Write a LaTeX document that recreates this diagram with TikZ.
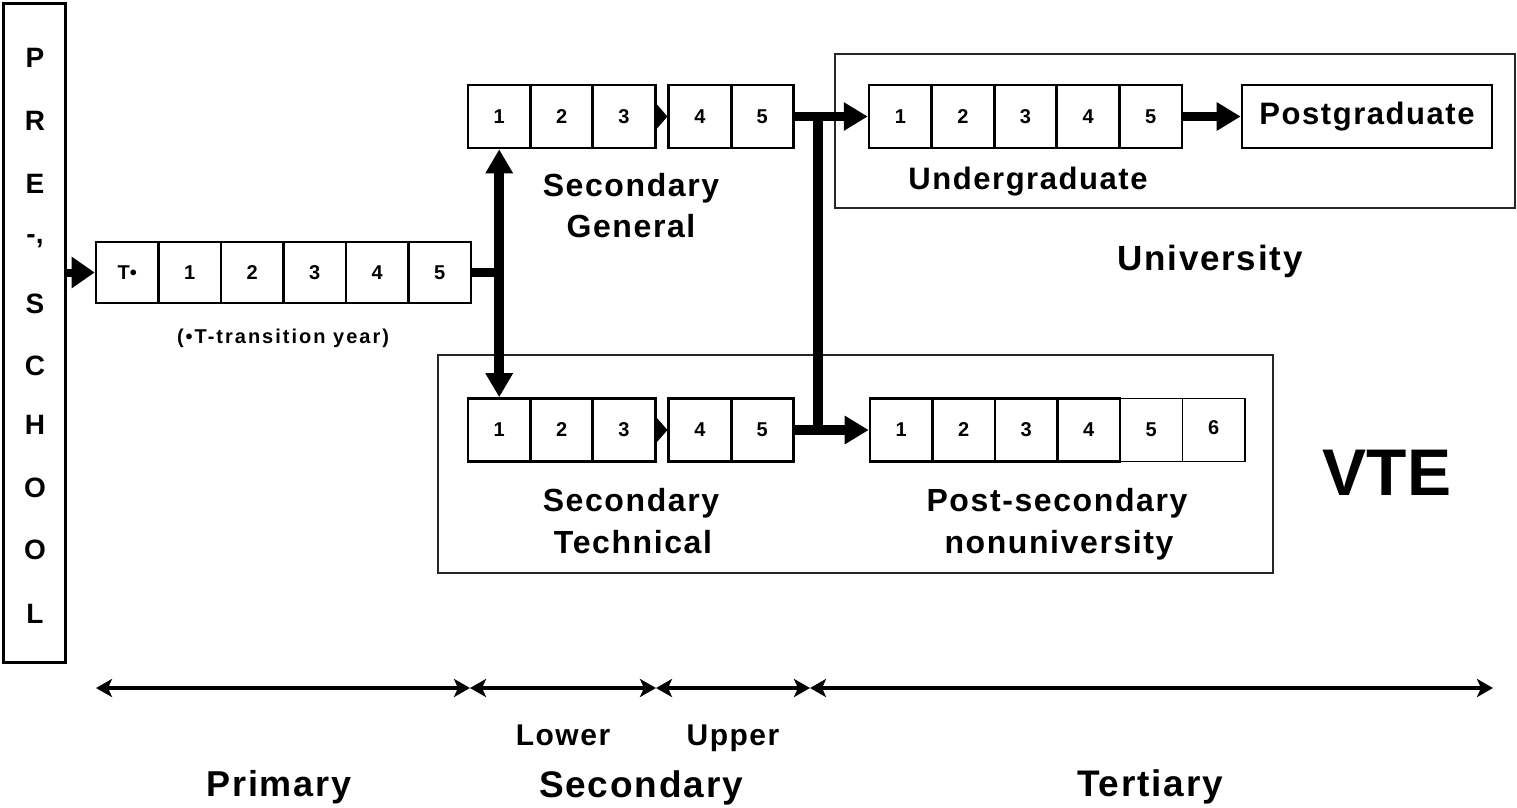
\documentclass[tikz,border=0pt]{standalone}
\usepackage{fontspec}
\setmainfont{Liberation Sans}
\newfontfamily\lab{Liberation Sans}[LetterSpace=5]
\newfontfamily\labwide{Liberation Sans}[LetterSpace=10]
\usetikzlibrary{arrows.meta,calc}
\newcommand{\fs}[1]{\fontsize{#1}{#1}\selectfont}
\tikzset{
  cell/.style={draw, line width=2.6pt, minimum width=62.5pt, minimum height=63pt, inner sep=0pt, font=\bfseries\fs{20}},
  thincell/.style={cell, line width=1.2pt},
  groupbox/.style={draw=black!85, line width=1.3pt, inner sep=0pt},
  flow/.style={line width=9.5pt, -{Triangle[length=24pt,width=27pt]}},
  axisline/.style={line width=4.5pt, {Stealth[length=16pt,width=18pt,inset=4pt]}-{Stealth[length=16pt,width=18pt,inset=4pt]}},
  lbl/.style={font=\lab\bfseries\fs{32}, anchor=base, inner sep=0pt},
  prelbl/.style={font=\bfseries\fs{28}, anchor=base, inner sep=0pt},
}
\begin{document}
\begin{tikzpicture}[x=1pt,y=-1pt]
\useasboundingbox (0,0) rectangle (1517,807);

% group boxes
\node[groupbox, minimum width=680pt, minimum height=154pt] (univ) at (1175,131) {};
\node[groupbox, minimum width=835pt, minimum height=218pt] (vte) at (855.5,464) {};

% preschool
\node[draw, line width=2.6pt, minimum width=62pt, minimum height=659pt, inner sep=0pt] (pre) at (34.5,333) {};
\node[prelbl] (l1) at (35,67) {P};
\node[prelbl] (l2) at (35,130) {R};
\node[prelbl] (l3) at (35,193) {E};
\node[prelbl] (l4) at (35,243) {-,};
\node[prelbl] (l5) at (35,313) {S};
\node[prelbl] (l6) at (35,375) {C};
\node[prelbl] (l7) at (35,434) {H};
\node[prelbl] (l8) at (35,497) {O};
\node[prelbl] (l9) at (35,559) {O};
\node[prelbl] (l10) at (35,623) {L};

% primary
\node[cell, minimum height=61pt] (p0) at (127.25,272.5) {T•};
\node[cell, minimum height=61pt] (p1) at (189.75,272.5) {1};
\node[cell, minimum height=61pt] (p2) at (252.25,272.5) {2};
\node[cell, minimum height=61pt] (p3) at (314.75,272.5) {3};
\node[cell, minimum height=61pt] (p4) at (377.25,272.5) {4};
\node[cell, minimum height=61pt] (p5) at (439.75,272.5) {5};
\node[font=\labwide\bfseries\fs{20}, anchor=base, inner sep=0pt] (tnote) at (283,343) {(•T-transition year)};

% secondary general
\node[cell] (g1) at (499.2,116.5) {1};
\node[cell] (g2) at (561.6,116.5) {2};
\node[cell] (g3) at (624,116.5) {3};
\node[cell] (g4) at (700,116.5) {4};
\node[cell] (g5) at (762.2,116.5) {5};
\node[lbl] (sg1) at (631,196) {Secondary};
\node[lbl] (sg2) at (631,237) {General};

% secondary technical
\node[cell] (t1) at (499.2,430) {1};
\node[cell] (t2) at (561.6,430) {2};
\node[cell] (t3) at (624,430) {3};
\node[cell] (t4) at (700,430) {4};
\node[cell] (t5) at (762.2,430) {5};
\node[lbl] (st1) at (631,511) {Secondary};
\node[lbl] (st2) at (633,553) {Technical};

% undergraduate / postgraduate
\node[cell] (u1) at (900.3,116.5) {1};
\node[cell] (u2) at (962.9,116.5) {2};
\node[cell] (u3) at (1025.5,116.5) {3};
\node[cell] (u4) at (1088.1,116.5) {4};
\node[cell] (u5) at (1150.7,116.5) {5};
\node[cell, minimum width=250pt, font=\lab\bfseries\fs{31}] (pg) at (1367,116.5) {Postgraduate};
\node[lbl, font=\lab\bfseries\fs{31}] (ug) at (1028,189) {Undergraduate};
\node[lbl, font=\lab\bfseries\fs{35}] (uni) at (1210,270) {University};

% post-secondary nonuniversity
\node[thincell] (n5) at (1151.25,430) {5};
\node[thincell] (n6) at (1213.75,430) {\raisebox{5pt}{6}};
\node[cell] (n1) at (901.25,430) {1};
\node[cell] (n2) at (963.75,430) {2};
\node[cell] (n3) at (1026.25,430) {3};
\node[cell] (n4) at (1088.75,430) {4};
\node[lbl] (ps1) at (1057,511) {Post-secondary};
\node[lbl] (ps2) at (1059,553) {nonuniversity};
\node[font=\bfseries\fs{66}, anchor=base, inner sep=0pt] (vtel) at (1387,495) {VTE};

% small transition triangles
\fill ($(g3.east)+(0,-12.5)$) -- (g4.west) -- ($(g3.east)+(0,12.5)$) -- cycle;
\fill ($(t3.east)+(0,-12.5)$) -- (t4.west) -- ($(t3.east)+(0,12.5)$) -- cycle;

% connectors
\draw[line width=8pt, -{Triangle[length=23pt,width=30pt]}] (pre.east |- p0.west) -- (p0.west);
\coordinate (jp) at (499.2,272.5);
\draw[line width=9.5pt] (p5.east) -- (jp);
\draw[line width=9.5pt, {Triangle[length=24pt,width=26pt]}-{Triangle[length=24pt,width=26pt]}] (g1.south) -- (t1.north);
\coordinate (jg) at (818,116.5);
\coordinate (jt) at (818,430);
\draw[line width=9.5pt] (jg) -- (jt);
\draw[flow] (g5.east) -- (u1.west);
\draw[flow] (t5.east) -- (n1.west);
\draw[line width=9pt, -{Triangle[length=24pt,width=27pt]}] (u5.east) -- (pg.west);

% bottom axis
\coordinate (a0) at (96,688);
\coordinate (a1) at (470,688);
\coordinate (a2) at (656,688);
\coordinate (a3) at (810,688);
\coordinate (a4) at (1493,688);
\draw[axisline] (a0) -- (a1);
\draw[axisline] (a1) -- (a2);
\draw[axisline] (a2) -- (a3);
\draw[axisline] (a3) -- (a4);
\node[lbl, font=\lab\bfseries\fs{30}] (lower) at (563,745) {Lower};
\node[lbl, font=\lab\bfseries\fs{30}] (upper) at (733,745) {Upper};
\node[lbl, font=\lab\bfseries\fs{36}] (prim) at (279,796) {Primary};
\node[lbl, font=\lab\bfseries\fs{37}] (sec) at (641,797) {Secondary};
\node[lbl, font=\lab\bfseries\fs{37}] (tert) at (1150,796) {Tertiary};
\end{tikzpicture}
\end{document}
